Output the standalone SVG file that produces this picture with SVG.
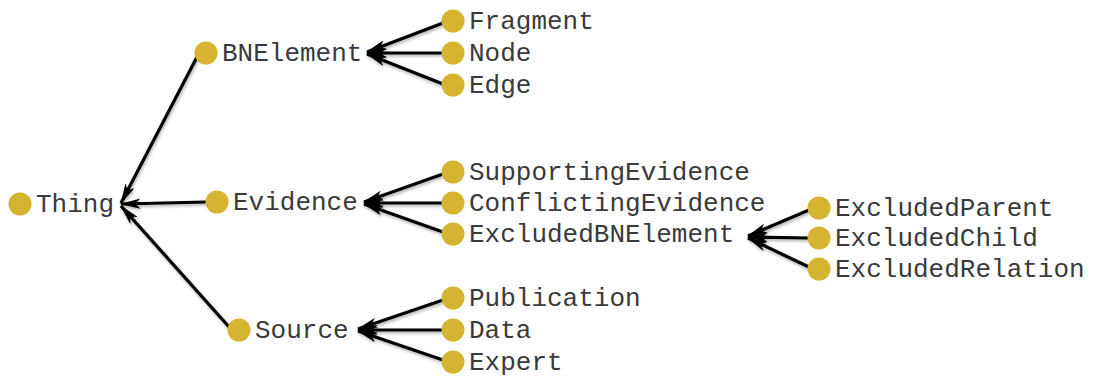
<svg xmlns="http://www.w3.org/2000/svg" width="1093" height="376" viewBox="0 0 1093 376">
<style>
.n circle{fill:#d5b431}
.n text{font-family:"Liberation Mono","Courier New",monospace;font-size:26px;fill:#3a3a3a}
.e line{stroke:#000;stroke-width:3.2}
</style>
<defs>
<marker id="ah" viewBox="0 0 20 10" refX="19" refY="5" markerWidth="6.5" markerHeight="3.2" orient="auto" markerUnits="strokeWidth">
<path d="M0,0 L20,5 L0,10 L5,5 Z" fill="#000"/>
</marker>
<filter id="sh" x="-10%" y="-10%" width="120%" height="120%">
<feDropShadow dx="1" dy="2" stdDeviation="1.5" flood-color="#000" flood-opacity="0.3"/>
</filter>
</defs>
<rect width="1093" height="376" fill="#fff"/>
<g id="connectors" class="e" filter="url(#sh)">
<line x1="198" y1="55" x2="121" y2="203" marker-end="url(#ah)"/>
<line x1="206" y1="202" x2="121" y2="204" marker-end="url(#ah)"/>
<line x1="230" y1="328" x2="121" y2="206" marker-end="url(#ah)"/>
<line x1="443" y1="23" x2="367" y2="52" marker-end="url(#ah)"/>
<line x1="443" y1="53" x2="367" y2="53" marker-end="url(#ah)"/>
<line x1="443" y1="84" x2="367" y2="54" marker-end="url(#ah)"/>
<line x1="443" y1="174" x2="364" y2="202" marker-end="url(#ah)"/>
<line x1="443" y1="203" x2="364" y2="203" marker-end="url(#ah)"/>
<line x1="443" y1="232" x2="364" y2="204" marker-end="url(#ah)"/>
<line x1="443" y1="300" x2="358" y2="329" marker-end="url(#ah)"/>
<line x1="443" y1="330" x2="358" y2="330" marker-end="url(#ah)"/>
<line x1="443" y1="360" x2="358" y2="331" marker-end="url(#ah)"/>
<line x1="809" y1="210" x2="748" y2="236" marker-end="url(#ah)"/>
<line x1="809" y1="238" x2="748" y2="237" marker-end="url(#ah)"/>
<line x1="809" y1="267" x2="748" y2="238" marker-end="url(#ah)"/>
</g>
<g id="thing" class="n"><circle cx="20" cy="204" r="11.5"/><text x="36" y="212">Thing</text></g>
<g id="bnelement" class="n"><circle cx="206" cy="53" r="11.5"/><text x="222" y="61">BNElement</text></g>
<g id="evidence" class="n"><circle cx="217" cy="202" r="11.5"/><text x="233" y="210">Evidence</text></g>
<g id="source" class="n"><circle cx="239" cy="330" r="11.5"/><text x="255" y="338">Source</text></g>
<g id="fragment" class="n"><circle cx="453" cy="21" r="11.5"/><text x="469" y="29">Fragment</text></g>
<g id="node" class="n"><circle cx="453" cy="53" r="11.5"/><text x="469" y="61">Node</text></g>
<g id="edge" class="n"><circle cx="453" cy="85" r="11.5"/><text x="469" y="93">Edge</text></g>
<g id="supportingevidence" class="n"><circle cx="453" cy="172" r="11.5"/><text x="469" y="180">SupportingEvidence</text></g>
<g id="conflictingevidence" class="n"><circle cx="453" cy="203" r="11.5"/><text x="469" y="211">ConflictingEvidence</text></g>
<g id="excludedbnelement" class="n"><circle cx="453" cy="234" r="11.5"/><text x="469" y="242">ExcludedBNElement</text></g>
<g id="publication" class="n"><circle cx="453" cy="298" r="11.5"/><text x="469" y="306">Publication</text></g>
<g id="data" class="n"><circle cx="453" cy="330" r="11.5"/><text x="469" y="338">Data</text></g>
<g id="expert" class="n"><circle cx="453" cy="362" r="11.5"/><text x="469" y="370">Expert</text></g>
<g id="excludedparent" class="n"><circle cx="819" cy="208" r="11.5"/><text x="835" y="216">ExcludedParent</text></g>
<g id="excludedchild" class="n"><circle cx="819" cy="238" r="11.5"/><text x="835" y="246">ExcludedChild</text></g>
<g id="excludedrelation" class="n"><circle cx="819" cy="269" r="11.5"/><text x="835" y="277">ExcludedRelation</text></g>
</svg>
